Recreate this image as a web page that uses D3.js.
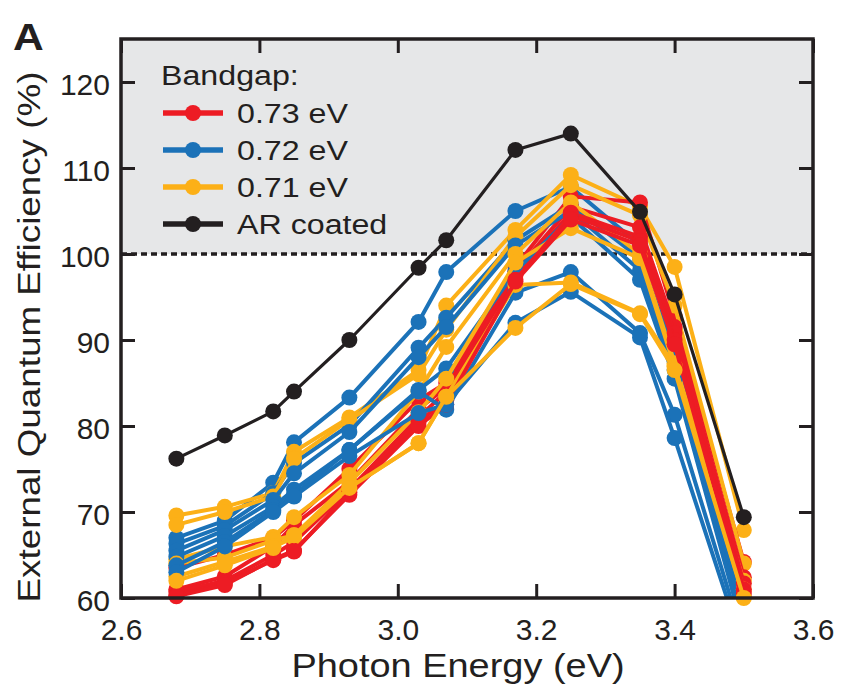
<!DOCTYPE html>
<html>
<head>
<meta charset="utf-8">
<script src="https://cdn.jsdelivr.net/npm/d3@7"></script>
<style>
  body { margin: 0; background: #fff; }
  text { font-family: "Liberation Sans", Arial, sans-serif; fill: #231f20; }
</style>
</head>
<body>
<div class="canvas"></div>
<script>
// photon energies (eV) where EQE was measured
const energy = [2.68, 2.75, 2.82, 2.85, 2.93, 3.03, 3.07, 3.17, 3.25, 3.35, 3.40, 3.50];

// EQE (%) per device
const arCoated = [76.2, 78.9, 81.7, 84.0, 90.0, 98.4, 101.6, 112.1, 114.0, 104.9, 95.3, 69.4];

const gap073 = [
  [63.5, 65.0, 67.0, 69.0, 75.0, 83.0, 85.0, 98.5, 106.7, 106.0, 92.7, 64.2],
  [61.0, 62.5, 66.0, 68.5, 73.5, 82.0, 84.5, 98.0, 105.5, 103.1, 91.5, 62.4],
  [60.7, 62.0, 65.0, 66.5, 72.6, 81.0, 84.0, 97.5, 104.8, 102.0, 90.8, 61.7],
  [60.3, 61.7, 64.4, 65.4, 72.3, 80.5, 83.0, 97.0, 104.5, 101.5, 90.0, 61.0],
  [60.2, 61.5, 64.5, 65.5, 72.0, 80.0, 82.5, 96.8, 104.0, 101.0, 89.5, 60.5]
];

const gap072 = [
  [67.0, 69.0, 73.4, 78.1, 83.3, 92.1, 97.9, 105.0, 107.8, 101.0, 90.0, 58.0],
  [66.3, 68.4, 72.2, 75.7, 80.1, 89.1, 92.6, 101.6, 105.7, 99.5, 88.5, 57.0],
  [65.5, 67.9, 71.4, 74.5, 79.3, 88.0, 91.5, 101.0, 105.0, 98.1, 86.5, 56.5],
  [64.8, 67.2, 70.6, 72.6, 77.2, 84.2, 86.7, 98.0, 104.3, 97.0, 85.5, 56.0],
  [63.8, 66.5, 70.2, 72.0, 77.2, 84.0, 81.9, 95.5, 97.9, 90.8, 81.3, 55.0],
  [63.0, 66.0, 70.0, 71.8, 76.5, 81.5, 82.5, 92.0, 95.6, 90.3, 78.6, 54.0]
];

const gap071 = [
  [69.6, 70.6, 72.2, 77.0, 81.0, 86.5, 94.0, 102.8, 109.2, 105.5, 98.5, 67.9],
  [68.5, 70.0, 71.8, 76.2, 80.7, 86.0, 91.2, 102.0, 108.0, 104.5, 94.0, 64.0],
  [64.5, 66.0, 67.1, 69.4, 74.3, 84.0, 89.2, 100.0, 106.0, 100.0, 87.3, 62.0],
  [64.0, 64.7, 66.7, 67.3, 73.4, 81.6, 85.5, 99.0, 103.0, 99.5, 86.9, 61.0],
  [62.5, 64.2, 66.0, 67.0, 72.8, 78.0, 83.4, 96.4, 96.7, 93.1, 87.0, 60.1],
  [62.0, 63.8, 65.8, 67.3, 72.8, 78.0, 83.4, 91.4, 96.5, 93.0, 86.5, 60.0]
];

const legendLabels = ['0.73 eV', '0.72 eV', '0.71 eV', 'AR coated'];
const legendColors = ['#ed1c24', '#1b72b8', '#fcb017', '#231f20'];
const xTicks = [2.6, 2.8, 3.0, 3.2, 3.4, 3.6];
const yTicks = [60, 70, 80, 90, 100, 110, 120];

const red = '#ed1c24', blue = '#1b72b8', orange = '#fcb017', ink = '#231f20';

const svg = d3.select('.canvas')
  .append('svg')
    .attr('width', 841)
    .attr('height', 689);

const pLeft = 121, pRight = 813, pTop = 39, pBottom = 598;

const x = d3.scaleLinear().domain([2.6, 3.6]).range([pLeft, pRight]);
const y = d3.scaleLinear().domain([60, 125]).range([pBottom, pTop]);

svg.append('clipPath').attr('id', 'plot')
  .append('rect')
    .attr('x', pLeft).attr('y', pTop)
    .attr('width', pRight - pLeft).attr('height', pBottom - pTop);

// grey zone above 100 %
svg.append('rect')
  .attr('x', pLeft).attr('y', pTop)
  .attr('width', pRight - pLeft)
  .attr('height', y(100) - pTop)
  .attr('fill', '#e6e7e8');

svg.append('line')
  .attr('x1', pLeft).attr('x2', pRight)
  .attr('y1', y(100)).attr('y2', y(100))
  .attr('stroke', ink)
  .attr('stroke-width', 3.5)
  .attr('stroke-dasharray', '6,4');

// interleave the devices so no colour sits fully on top
const series = [];
for (let i = 0; i < 6; i++) {
  if (gap072[i]) series.push({ color: blue, values: gap072[i] });
  if (gap071[i]) series.push({ color: orange, values: gap071[i] });
  if (gap073[i]) series.push({ color: red, values: gap073[i] });
}
series.push({ color: ink, values: arCoated, black: true });

const line = d3.line()
  .x((d, i) => x(energy[i]))
  .y(d => y(d));

const groups = svg.selectAll('g.series')
  .data(series)
  .enter()
  .append('g')
    .attr('class', 'series');

groups.append('path')
  .attr('d', d => line(d.values))
  .attr('fill', 'none')
  .attr('stroke', d => d.color)
  .attr('stroke-width', d => d.black ? 3.2 : 4)
  .attr('stroke-linejoin', 'round')
  .attr('clip-path', 'url(#plot)');

groups.selectAll('circle')
  .data(d => d.values.map((v, i) => ({ v, e: energy[i], color: d.color, black: d.black })).filter(p => p.v >= 59.5))
  .enter()
  .append('circle')
    .attr('cx', d => x(d.e))
    .attr('cy', d => y(d.v))
    .attr('r', 8)
    .attr('fill', d => d.color);

// axes, ticks pointing inward on all four sides
const tickLen = 14;

const xAxis = svg.append('g')
  .attr('transform', `translate(0,${pBottom})`)
  .call(d3.axisBottom(x).tickValues(xTicks).tickFormat(d3.format('.1f'))
    .tickSizeInner(-tickLen).tickSizeOuter(0).tickPadding(21));

const yAxis = svg.append('g')
  .attr('transform', `translate(${pLeft},0)`)
  .call(d3.axisLeft(y).tickValues(yTicks)
    .tickSizeInner(-tickLen).tickSizeOuter(0).tickPadding(11));

svg.append('g')
  .attr('transform', `translate(0,${pTop})`)
  .call(d3.axisTop(x).tickValues(xTicks).tickFormat('')
    .tickSizeInner(-tickLen).tickSizeOuter(0));

svg.append('g')
  .attr('transform', `translate(${pRight},0)`)
  .call(d3.axisRight(y).tickValues(yTicks).tickFormat('')
    .tickSizeInner(-tickLen).tickSizeOuter(0));

svg.selectAll('.domain').remove();
svg.selectAll('.tick line').attr('stroke', ink).attr('stroke-width', 3);
svg.selectAll('.tick text')
  .attr('font-size', 30)
  .attr('font-family', '"Liberation Sans", Arial, sans-serif')
  .attr('fill', ink);
yAxis.selectAll('.tick text').attr('dy', '0.42em');

svg.append('rect')
  .attr('x', pLeft).attr('y', pTop)
  .attr('width', pRight - pLeft).attr('height', pBottom - pTop)
  .attr('fill', 'none')
  .attr('stroke', ink)
  .attr('stroke-width', 3.5);

// labels (the original type is a bit wide, hence the stretch)
svg.append('text')
  .attr('transform', 'translate(458,677) scale(1.15,1)')
  .attr('text-anchor', 'middle')
  .attr('font-size', 33)
  .text('Photon Energy (eV)');

svg.append('text')
  .attr('transform', 'translate(40,337) rotate(-90) scale(1.15,1)')
  .attr('text-anchor', 'middle')
  .attr('font-size', 32)
  .text('External Quantum Efficiency (%)');

svg.append('text')
  .attr('transform', 'translate(13,50) scale(1.15,1)')
  .attr('font-size', 37)
  .attr('font-weight', 'bold')
  .text('A');

// legend
svg.append('text')
  .attr('transform', 'translate(161,85) scale(1.15,1)')
  .attr('font-size', 28)
  .text('Bandgap:');

const legend = svg.selectAll('g.legend')
  .data(legendLabels)
  .enter()
  .append('g')
    .attr('class', 'legend')
    .attr('transform', (d, i) => `translate(0,${113 + i * 37})`);

legend.append('line')
  .attr('x1', 163).attr('x2', 223)
  .attr('stroke', (d, i) => legendColors[i])
  .attr('stroke-width', 5.5);

legend.append('circle')
  .attr('cx', 193)
  .attr('r', 8)
  .attr('fill', (d, i) => legendColors[i]);

legend.append('text')
  .attr('transform', 'translate(237,9.5) scale(1.15,1)')
  .attr('font-size', 28)
  .text(d => d);
</script>
</body>
</html>
